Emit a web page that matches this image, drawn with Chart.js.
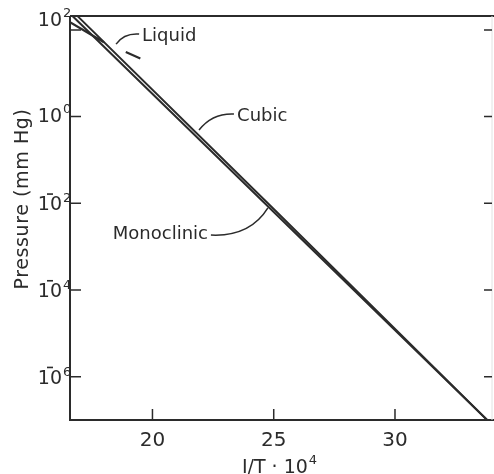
<!DOCTYPE html>
<html>
<head>
<meta charset="utf-8">
<script src="https://cdn.jsdelivr.net/npm/chart.js@4"></script>
<style>
  html, body { margin: 0; padding: 0; background: #fff; }
  canvas { display: block; }
</style>
</head>
<body>
<canvas id="vaporChart" width="494" height="474"></canvas>
<script>
// values (x = 1/T * 10^4, y = mm Hg)
const monoX = [16.7, 25.0, 33.8];
const monoP = [210, 6.3e-3, 1e-7];
const cubicX = [16.9, 25.0, 33.8];
const cubicP = [210, 7.4e-3, 1e-7];
const liquidX = [16.6, 18.0, 18.4, 18.9, 19.5];
const liquidP = [150, 52, null, 31, 22];
const xTicks = [20, 25, 30];
const yTicks = [1e2, 1, 1e-2, 1e-4, 1e-6];
const yExponents = [2, 0, -2, -4, -6];

const ink = "#2b2b2b";
const font = "DejaVu Sans";
const toPoints = (xs, ys) => xs.map((x, i) => ({ x: x, y: ys[i] }));

// label anchors in data units: text spot, leader start, bend, end on the curve
const notes = [
  { text: "Liquid", align: "left", at: [19.57, 72], leader: [[19.45, 80], [18.83, 85], [18.5, 47]] },
  { text: "Cubic", align: "left", at: [23.49, 1.03], leader: [[23.36, 1.15], [22.46, 1.21], [21.92, 0.49]] },
  { text: "Monoclinic", align: "right", at: [22.29, 1.95e-3], leader: [[22.41, 1.85e-3], [24.02, 1.67e-3], [24.76, 7.8e-3]] },
];

const framePlugin = {
  id: "frame",
  afterDraw(chart) {
    const { ctx, chartArea: a, scales } = chart;
    const x = scales.x, y = scales.y;
    const W = chart.width;
    ctx.save();
    ctx.strokeStyle = ink;
    ctx.lineWidth = 2;
    ctx.beginPath();
    ctx.moveTo(a.left, a.top); ctx.lineTo(W, a.top);
    ctx.moveTo(a.left, a.top); ctx.lineTo(a.left, a.bottom);
    ctx.moveTo(a.left - 1, a.bottom); ctx.lineTo(W, a.bottom);
    ctx.stroke();
    // faint right edge
    ctx.strokeStyle = "#e2e2e2";
    ctx.lineWidth = 1;
    ctx.beginPath();
    ctx.moveTo(a.right, a.top); ctx.lineTo(a.right, a.bottom);
    ctx.stroke();

    // inward tick marks
    ctx.strokeStyle = ink;
    ctx.lineWidth = 1.5;
    ctx.beginPath();
    yTicks.forEach(v => {
      const py = y.getPixelForValue(v);
      ctx.moveTo(a.left, py); ctx.lineTo(a.left + 11, py);
      ctx.moveTo(a.right - 8, py); ctx.lineTo(a.right, py);
    });
    xTicks.forEach(v => {
      const px = x.getPixelForValue(v);
      ctx.moveTo(px, a.bottom); ctx.lineTo(px, a.bottom - 11);
    });
    ctx.stroke();

    // y tick labels: 10 with a raised exponent, minus sign set over the 0
    ctx.fillStyle = ink;
    yTicks.forEach((v, i) => {
      const e = yExponents[i];
      const py0 = y.getPixelForValue(v);
      const py = py0 - a.top < 20 ? a.top + 5 : py0; // top label sits just under the frame
      const neg = e < 0;
      const base = neg ? py + 2 : py;
      ctx.font = "19px '" + font + "'";
      ctx.textAlign = "right";
      ctx.textBaseline = "middle";
      ctx.fillText("10", a.left - 8, base);
      ctx.font = "13px '" + font + "'";
      ctx.textAlign = "left";
      ctx.textBaseline = "alphabetic";
      ctx.fillText(String(Math.abs(e)), a.left - 7, neg ? py - 1 : py - 4);
      if (neg) {
        ctx.fillRect(a.left - 23, py - 10, 6, 1.6);
      }
    });

    // annotations with curved leaders
    ctx.font = "18px '" + font + "'";
    ctx.textBaseline = "middle";
    ctx.lineWidth = 1.5;
    notes.forEach(n => {
      ctx.textAlign = n.align;
      ctx.fillText(n.text, x.getPixelForValue(n.at[0]), y.getPixelForValue(n.at[1]));
      const p = n.leader.map(q => [x.getPixelForValue(q[0]), y.getPixelForValue(q[1])]);
      ctx.beginPath();
      ctx.moveTo(p[0][0], p[0][1]);
      ctx.quadraticCurveTo(p[1][0], p[1][1], p[2][0], p[2][1]);
      ctx.stroke();
    });

    // axis titles
    ctx.textAlign = "center";
    ctx.textBaseline = "alphabetic";
    ctx.font = "19px '" + font + "'";
    ctx.save();
    ctx.letterSpacing = "0.6px";
    ctx.translate(28, 199);
    ctx.rotate(-Math.PI / 2);
    ctx.fillText("Pressure (mm Hg)", 0, 0);
    ctx.restore();

    const base = "I/T · 10";
    ctx.font = "19px '" + font + "'";
    const wBase = ctx.measureText(base).width;
    ctx.font = "13px '" + font + "'";
    const wExp = ctx.measureText("4").width;
    const cx = (a.left + a.right) / 2 - 2;
    const left = cx - (wBase + wExp) / 2;
    ctx.textAlign = "left";
    ctx.font = "19px '" + font + "'";
    ctx.fillText(base, left, 473);
    ctx.font = "13px '" + font + "'";
    ctx.fillText("4", left + wBase + 1, 464);
    ctx.restore();
  },
};

new Chart(document.getElementById("vaporChart").getContext("2d"), {
  type: "scatter",
  data: {
    datasets: [
      {
        label: "Monoclinic",
        data: toPoints(monoX, monoP),
        showLine: true,
        borderColor: ink,
        borderWidth: 2,
        pointRadius: 0,
      },
      {
        label: "Cubic",
        data: toPoints(cubicX, cubicP),
        showLine: true,
        borderColor: ink,
        borderWidth: 2,
        pointRadius: 0,
      },
      {
        label: "Liquid",
        data: toPoints(liquidX, liquidP),
        showLine: true,
        spanGaps: false,
        borderColor: ink,
        borderWidth: 2.2,
        pointRadius: 0,
      },
    ],
  },
  options: {
    responsive: false,
    devicePixelRatio: 1,
    animation: false,
    layout: { padding: { top: 16, right: 2, left: 0, bottom: 0 } },
    plugins: {
      legend: { display: false },
      tooltip: { enabled: false },
    },
    scales: {
      x: {
        type: "linear",
        min: 16.6,
        max: 34.0,
        afterFit: s => { s.height = 54; },
        afterBuildTicks: s => { s.ticks = xTicks.map(v => ({ value: v })); },
        grid: { display: false },
        border: { display: false },
        ticks: {
          color: ink,
          padding: 1,
          font: { family: font, size: 20 },
        },
      },
      y: {
        type: "logarithmic",
        min: 1e-7,
        max: 209,
        afterFit: s => { s.width = 70; },
        afterBuildTicks: s => { s.ticks = yTicks.map(v => ({ value: v })); },
        grid: { display: false },
        border: { display: false },
        ticks: { display: false },
      },
    },
  },
  plugins: [framePlugin],
});
</script>
</body>
</html>
